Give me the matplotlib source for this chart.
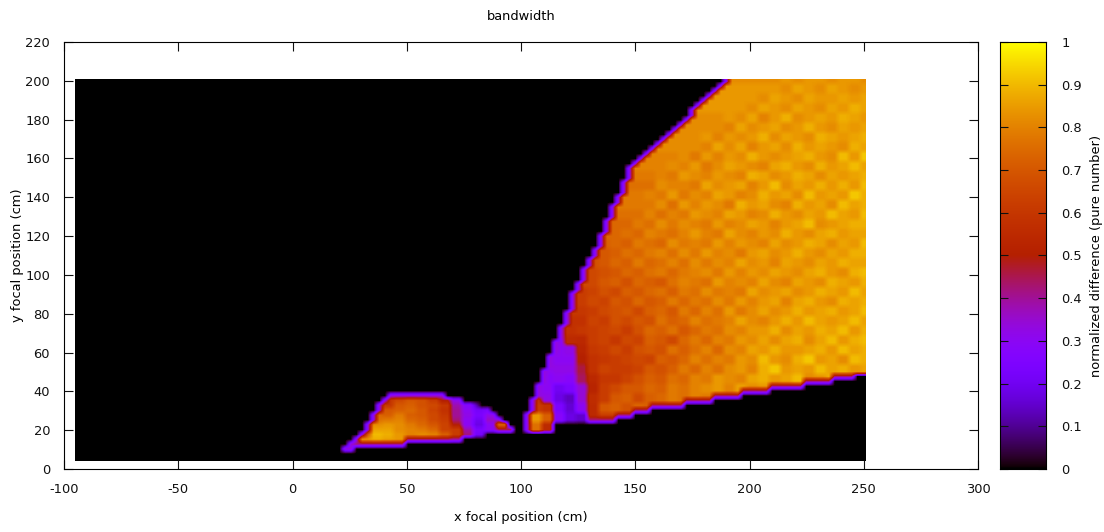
import numpy as np
import matplotlib
matplotlib.use('Agg')
import matplotlib.pyplot as plt
from matplotlib.colors import ListedColormap

# gnuplot default pm3d palette (rgbformulae 7,5,15)
t = np.linspace(0, 1, 256)
palette = ListedColormap(np.c_[np.sqrt(t), t**3, np.clip(np.sin(2 * np.pi * t), 0, 1)])

x_ticks = [-100, -50, 0, 50, 100, 150, 200, 250, 300]
y_ticks = [0, 20, 40, 60, 80, 100, 120, 140, 160, 180, 200, 220]
cb_ticks = [0, 0.1, 0.2, 0.3, 0.4, 0.5, 0.6, 0.7, 0.8, 0.9, 1]
cb_labels = ['0', '0.1', '0.2', '0.3', '0.4', '0.5', '0.6', '0.7', '0.8', '0.9', '1']

# first coloured x of each row, y = 20, 22.5 ... 200
right_start = [102.5, 102.5, 102.5, 102.5, 105, 105, 105, 107.5, 107.5, 107.5,
               110, 110, 110, 112.5, 112.5, 112.5, 115, 115, 115, 117.5,
               117.5, 117.5, 120, 120, 120, 122.5, 122.5, 122.5, 122.5, 125,
               125, 127.5, 127.5, 127.5, 130, 130, 132.5, 132.5, 135, 135,
               135, 137.5, 137.5, 137.5, 140, 140, 140, 142.5, 142.5, 145,
               145, 145, 147.5, 147.5, 147.5, 150, 152.5, 155, 157.5, 160,
               162.5, 165, 167.5, 170, 172.5, 175, 175, 177.5, 180, 182.5,
               185, 187.5, 190]
# last coloured x of the rows under the sloping edge, y = 20 ... 47.5
right_end = [112.5, 112.5, 140, 147.5, 155, 170, 182.5, 195, 207.5, 222.5, 235, 245]

# values in percent, x = 105, 110 ... 250, y = 20, 25 ... 200; 0 = left of the edge
right_vals = [
    [76, 55, 30, 20, 10, 5, 5, 5, 5, 5, 5, 5, 5, 5, 5, 5, 5, 5, 5, 5, 5, 5, 5, 5, 5, 5, 5, 5, 5, 5],
    [84, 72, 28, 18, 15, 55, 62, 62, 50, 50, 50, 50, 50, 50, 50, 50, 50, 50, 50, 50, 50, 50, 50, 50, 50, 50, 50, 50, 50, 50],
    [62, 58, 24, 16, 30, 55, 70, 72, 68, 74, 72, 70, 72, 72, 72, 72, 72, 72, 72, 72, 72, 72, 72, 72, 72, 72, 72, 72, 72, 72],
    [60, 32, 18, 14, 34, 56, 62, 70, 72, 66, 72, 74, 78, 76, 80, 78, 78, 78, 78, 78, 78, 78, 78, 78, 78, 78, 78, 78, 78, 78],
    [40, 30, 20, 24, 34, 52, 62, 66, 70, 70, 74, 72, 78, 76, 80, 82, 84, 80, 86, 82, 84, 88, 84, 84, 84, 84, 84, 84, 84, 84],
    [30, 28, 30, 28, 44, 54, 60, 60, 64, 68, 72, 70, 76, 74, 80, 78, 84, 82, 80, 86, 88, 84, 86, 90, 82, 84, 88, 86, 86, 86],
    [30, 30, 32, 32, 46, 58, 64, 62, 62, 64, 70, 68, 72, 78, 74, 80, 76, 82, 84, 80, 88, 92, 84, 86, 84, 90, 86, 88, 84, 86],
    [30, 30, 30, 30, 50, 58, 60, 62, 64, 66, 64, 72, 70, 74, 80, 76, 80, 78, 84, 82, 90, 84, 82, 88, 92, 84, 86, 82, 90, 88],
    [30, 30, 30, 32, 52, 60, 62, 66, 62, 68, 70, 68, 76, 72, 76, 80, 74, 82, 80, 86, 84, 88, 84, 84, 86, 88, 84, 90, 86, 88],
    [0, 0, 30, 55, 54, 62, 64, 60, 66, 64, 72, 70, 66, 74, 78, 74, 80, 78, 84, 82, 86, 82, 86, 88, 82, 86, 90, 84, 88, 90],
    [0, 0, 0, 58, 60, 62, 64, 66, 62, 68, 74, 72, 76, 70, 74, 78, 76, 82, 80, 84, 84, 88, 82, 86, 84, 88, 86, 90, 84, 88],
    [0, 0, 0, 58, 58, 64, 62, 68, 66, 70, 68, 76, 72, 74, 80, 76, 78, 80, 86, 82, 80, 84, 88, 84, 90, 86, 84, 86, 90, 86],
    [0, 0, 0, 0, 60, 62, 66, 68, 70, 66, 72, 74, 70, 78, 74, 80, 76, 84, 78, 82, 86, 82, 84, 88, 84, 86, 88, 84, 86, 90],
    [0, 0, 0, 0, 62, 66, 64, 70, 68, 74, 70, 72, 78, 74, 78, 76, 82, 78, 84, 80, 84, 86, 80, 86, 88, 84, 82, 88, 86, 88],
    [0, 0, 0, 0, 62, 64, 68, 66, 72, 70, 74, 76, 72, 78, 76, 82, 78, 80, 78, 86, 82, 84, 86, 82, 84, 88, 86, 84, 90, 86],
    [0, 0, 0, 0, 0, 66, 70, 72, 68, 74, 72, 70, 76, 80, 78, 76, 84, 80, 82, 80, 86, 82, 80, 86, 84, 82, 88, 86, 84, 88],
    [0, 0, 0, 0, 0, 66, 68, 70, 74, 72, 76, 78, 74, 78, 80, 82, 78, 84, 80, 84, 82, 86, 84, 82, 86, 88, 84, 82, 88, 90],
    [0, 0, 0, 0, 0, 68, 70, 74, 72, 78, 74, 76, 80, 76, 82, 78, 82, 80, 86, 82, 84, 80, 86, 84, 82, 86, 84, 88, 86, 86],
    [0, 0, 0, 0, 0, 0, 70, 72, 76, 74, 78, 80, 76, 82, 78, 84, 80, 82, 78, 84, 86, 82, 84, 88, 84, 82, 86, 84, 88, 88],
    [0, 0, 0, 0, 0, 0, 72, 74, 72, 78, 76, 74, 82, 78, 80, 78, 84, 80, 84, 82, 80, 86, 82, 84, 88, 86, 82, 86, 84, 90],
    [0, 0, 0, 0, 0, 0, 0, 74, 76, 74, 80, 78, 76, 80, 84, 80, 78, 86, 82, 80, 84, 82, 88, 84, 82, 86, 88, 84, 86, 86],
    [0, 0, 0, 0, 0, 0, 0, 74, 74, 78, 76, 82, 78, 82, 80, 78, 84, 80, 82, 86, 84, 80, 84, 86, 90, 82, 84, 86, 88, 88],
    [0, 0, 0, 0, 0, 0, 0, 0, 76, 76, 80, 76, 80, 78, 84, 82, 80, 86, 84, 80, 82, 88, 84, 82, 86, 84, 90, 86, 84, 90],
    [0, 0, 0, 0, 0, 0, 0, 0, 78, 78, 78, 82, 76, 84, 80, 84, 82, 78, 88, 84, 86, 82, 80, 88, 84, 86, 82, 90, 86, 88],
    [0, 0, 0, 0, 0, 0, 0, 0, 0, 78, 80, 78, 84, 78, 82, 80, 86, 84, 80, 82, 88, 84, 86, 82, 90, 84, 86, 84, 92, 88],
    [0, 0, 0, 0, 0, 0, 0, 0, 0, 76, 76, 82, 80, 80, 78, 86, 82, 84, 86, 80, 84, 90, 82, 86, 84, 88, 84, 88, 84, 90],
    [0, 0, 0, 0, 0, 0, 0, 0, 0, 0, 78, 80, 78, 84, 82, 80, 84, 82, 80, 88, 86, 82, 84, 88, 86, 82, 86, 84, 86, 88],
    [0, 0, 0, 0, 0, 0, 0, 0, 0, 0, 0, 80, 82, 80, 84, 78, 82, 86, 84, 82, 80, 86, 88, 84, 82, 88, 84, 86, 90, 86],
    [0, 0, 0, 0, 0, 0, 0, 0, 0, 0, 0, 0, 80, 82, 78, 84, 80, 84, 82, 88, 84, 82, 84, 86, 88, 84, 82, 90, 84, 92],
    [0, 0, 0, 0, 0, 0, 0, 0, 0, 0, 0, 0, 0, 82, 82, 80, 86, 82, 86, 80, 84, 86, 82, 88, 84, 86, 84, 82, 88, 86],
    [0, 0, 0, 0, 0, 0, 0, 0, 0, 0, 0, 0, 0, 0, 82, 84, 80, 84, 82, 84, 88, 82, 86, 84, 82, 88, 86, 84, 86, 88],
    [0, 0, 0, 0, 0, 0, 0, 0, 0, 0, 0, 0, 0, 0, 0, 82, 82, 80, 86, 82, 84, 86, 82, 84, 88, 84, 82, 86, 84, 86],
    [0, 0, 0, 0, 0, 0, 0, 0, 0, 0, 0, 0, 0, 0, 0, 0, 82, 84, 82, 86, 80, 84, 88, 82, 84, 86, 84, 88, 86, 84],
    [0, 0, 0, 0, 0, 0, 0, 0, 0, 0, 0, 0, 0, 0, 0, 0, 0, 84, 84, 82, 86, 84, 82, 86, 84, 82, 86, 84, 88, 86],
    [0, 0, 0, 0, 0, 0, 0, 0, 0, 0, 0, 0, 0, 0, 0, 0, 0, 0, 84, 84, 82, 86, 84, 82, 86, 84, 84, 86, 84, 86],
    [0, 0, 0, 0, 0, 0, 0, 0, 0, 0, 0, 0, 0, 0, 0, 0, 0, 0, 0, 84, 84, 84, 82, 86, 84, 82, 86, 84, 82, 84],
    [0, 0, 0, 0, 0, 0, 0, 0, 0, 0, 0, 0, 0, 0, 0, 0, 0, 0, 0, 0, 82, 82, 84, 82, 84, 84, 82, 84, 84, 82],
]

# small island on the left, y = 10, 12.5 ... 37.5
island_start = [22.5, 25, 27.5, 30, 32.5, 32.5, 35, 35, 37.5, 37.5, 40, 42.5]
island_end = [25, 47.5, 72.5, 82.5, 95, 92.5, 90, 87.5, 85, 80, 72.5, 65]
# x = 25, 30 ... 95
island_vals = [
    [34, 34, 34, 34, 34, 34, 34, 34, 34, 34, 34, 34, 34, 34, 34],
    [42, 42, 42, 42, 42, 42, 42, 42, 42, 42, 42, 42, 42, 42, 42],
    [30, 84, 88, 86, 84, 44, 44, 44, 44, 40, 35, 35, 35, 35, 35],
    [30, 70, 90, 88, 84, 80, 82, 80, 72, 62, 42, 22, 12, 12, 12],
    [30, 40, 86, 86, 82, 80, 78, 74, 64, 62, 38, 24, 30, 45, 45],
    [30, 30, 82, 84, 82, 78, 74, 70, 64, 50, 30, 18, 30, 74, 32],
    [30, 30, 76, 78, 80, 74, 72, 66, 62, 42, 30, 20, 36, 32, 30],
    [30, 30, 74, 72, 78, 72, 70, 66, 60, 40, 32, 24, 32, 30, 30],
    [30, 30, 68, 70, 72, 74, 70, 64, 58, 40, 30, 22, 24, 24, 24],
    [30, 30, 60, 60, 70, 72, 68, 66, 60, 38, 28, 14, 14, 14, 14],
    [30, 30, 60, 60, 66, 70, 68, 62, 50, 32, 14, 14, 14, 14, 14],
    [34, 34, 34, 34, 34, 34, 34, 34, 34, 34, 34, 34, 34, 34, 34],
]

# cells are 2.5 cm square, centred on -95, -92.5 ... 250 and 5, 7.5 ... 200
xc = np.arange(-95, 250.1, 2.5)
yc = np.arange(5, 200.1, 2.5)
grid = np.zeros((len(yc), len(xc)))

table = np.array(right_vals) / 100
for r, start in enumerate(right_start):
    y = 20 + r * 2.5
    row = int(round((y - 5) / 2.5))
    end = right_end[r] if r < len(right_end) else 250
    prev_end = right_end[r - 1] if 0 < r < len(right_end) else 9999
    first_real = table[r // 2][table[r // 2] > 0][0]
    for x in np.arange(start, end + 0.1, 2.5):
        col = int(round((x + 95) / 2.5))
        tc = min(max(int((x - 105) // 5), 0), 29)
        v = table[r // 2, tc] if table[r // 2, tc] > 0 else first_real
        # bottom edge of the wedge is a thin magenta line
        if x > prev_end:
            v = min(v, 0.42)
        grid[row, col] = v
    grid[row, int(round((start + 95) / 2.5))] = 0.33

table = np.array(island_vals) / 100
for r, (start, end) in enumerate(zip(island_start, island_end)):
    y = 10 + r * 2.5
    row = int(round((y - 5) / 2.5))
    for x in np.arange(start, end + 0.1, 2.5):
        col = int(round((x + 95) / 2.5))
        tc = min(max(int((x - 25) // 5), 0), 14)
        grid[row, col] = table[r, tc]
    grid[row, int(round((start + 95) / 2.5))] = 0.33

plt.rcParams['font.family'] = 'DejaVu Sans'
plt.rcParams['font.size'] = 9.4
plt.rcParams['axes.unicode_minus'] = False

fig = plt.figure(figsize=(11.04, 5.32), dpi=100)
W, H = 1104.0, 532.0
ax = fig.add_axes([64 / W, 1 - 469 / H, 914 / W, 427 / H])
ax.imshow(grid, origin='lower', aspect='auto', cmap=palette, vmin=0, vmax=1,
          interpolation='bilinear', extent=[-95, 250.8, 4.2, 200.8])
ax.set_xlim(-100, 300)
ax.set_ylim(0, 220)
ax.set_xticks(x_ticks)
ax.set_yticks(y_ticks)
ax.tick_params(direction='in', length=6.5, width=0.8, top=True, right=True, pad=10, labelsize=9.4, colors='#111111')
ax.set_xlabel('x focal position (cm)', fontsize=9.4, labelpad=11)
ax.set_ylabel('y focal position (cm)', fontsize=9.4, labelpad=1)
fig.text(521 / W, 1 - 16 / H, 'bandwidth', ha='center', va='center', fontsize=9.4)

cax = fig.add_axes([1000 / W, 1 - 469 / H, 46 / W, 427 / H])
cax.imshow(np.linspace(0, 1, 256)[:, None], origin='lower', aspect='auto', cmap=palette,
           vmin=0, vmax=1, extent=[0, 1, 0, 1])
cax.set_xticks([])
cax.set_yticks(cb_ticks)
cax.set_yticklabels(cb_labels)
cax.tick_params(direction='in', length=5.5, width=0.8, left=True, right=True, labelleft=False,
                labelright=True, pad=11, labelsize=9.4, colors='#111111')
cax.set_ylabel('normalized difference (pure number)', fontsize=9.4, labelpad=6)
cax.yaxis.set_label_position('right')

plt.savefig('out.png', dpi=100)
